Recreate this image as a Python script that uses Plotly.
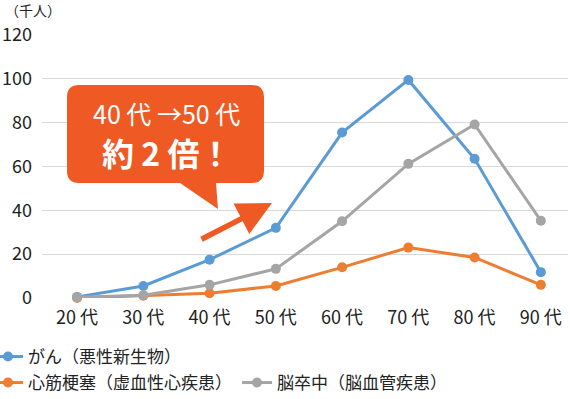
import plotly.graph_objects as go

categories = ["20 代", "30 代", "40 代", "50 代", "60 代", "70 代", "80 代", "90 代"]
cancer = [0.5, 5.5, 17.5, 32, 75.5, 99.5, 63.5, 11.8]
heart = [0.0, 1.0, 2.2, 5.5, 14.0, 23.0, 18.5, 6.0]
stroke = [0.3, 1.3, 6.0, 13.3, 35.0, 61.2, 79.2, 35.3]
series_names = ["がん（悪性新生物）", "心筋梗塞（虚血性心疾患）", "脳卒中（脳血管疾患）"]
y_ticks = [0, 20, 40, 60, 80, 100, 120]

W, H = 570, 399
ML, MR, MT, MB = 42, 2, 35, 101
PW, PH = W - ML - MR, H - MT - MB
FONT = "Noto Sans CJK JP"
ORANGE_CALLOUT = "#EF5A24"


def px(x):
    return (x - ML) / PW


def py(y):
    return (H - MB - y) / PH


fig = go.Figure()
for name, vals, color, lg in [
    (series_names[0], cancer, "#5B9BD5", "legend"),
    (series_names[1], heart, "#ED7D31", "legend2"),
    (series_names[2], stroke, "#A5A5A5", "legend2"),
]:
    fig.add_trace(go.Scatter(
        x=categories, y=vals, name=name, mode="lines+markers",
        line=dict(color=color, width=3),
        marker=dict(color=color, size=10),
        cliponaxis=False, legend=lg,
    ))

# callout bubble (rounded rect + tail)
x0, x1, y0, y1, r = 67, 264, 85, 183, 12
pts = [
    ("M", x0 + r, y0), ("L", x1 - r, y0), ("Q", x1, y0, x1, y0 + r),
    ("L", x1, y1 - r), ("Q", x1, y1, x1 - r, y1),
    ("L", 216, y1), ("L", 218, 209), ("L", 180, y1),
    ("L", x0 + r, y1), ("Q", x0, y1, x0, y1 - r),
    ("L", x0, y0 + r), ("Q", x0, y0, x0 + r, y0),
]
path = ""
for p in pts:
    cmd = p[0]
    coords = p[1:]
    parts = []
    for i in range(0, len(coords), 2):
        parts.append(f"{px(coords[i]):.5f},{py(coords[i+1]):.5f}")
    path += cmd + " ".join(parts) + " "
path += "Z"
fig.add_shape(type="path", path=path, xref="paper", yref="paper",
              fillcolor=ORANGE_CALLOUT, line=dict(width=0), layer="above")

annotations = [
    dict(text="40 代 →50 代", x=px(166), y=py(113), xref="paper", yref="paper",
         showarrow=False, font=dict(family=FONT, size=25, color="white"),
         xanchor="center", yanchor="middle"),
    dict(text="<b>約 2 倍！</b>", x=px(166), y=py(152), xref="paper", yref="paper",
         showarrow=False, font=dict(family=FONT, size=32, color="white"),
         xanchor="center", yanchor="middle"),
    dict(text="", x=px(272), y=py(203), xref="paper", yref="paper",
         showarrow=True, ax=200 - 272, ay=240 - 203, axref="pixel", ayref="pixel",
         arrowcolor=ORANGE_CALLOUT, arrowwidth=5.5, arrowhead=2, arrowsize=1.25),
    dict(text="（千人）", x=px(3), y=py(10), xref="paper", yref="paper",
         xanchor="left", yanchor="middle", showarrow=False,
         font=dict(family=FONT, size=14, color="#222222")),
]

fig.update_layout(
    template="none",
    width=W, height=H,
    margin=dict(l=ML, r=MR, t=MT, b=MB, autoexpand=False),
    paper_bgcolor="white", plot_bgcolor="white",
    font=dict(family=FONT, color="#222222"),
    xaxis=dict(type="category", range=[-0.53, 7.41], showgrid=False,
               showline=False, zeroline=False, ticks="", automargin=False,
               tickfont=dict(family=FONT, size=18, color="#222222"),
               ticklabelstandoff=7),
    yaxis=dict(range=[0, 120], tickvals=y_ticks, showgrid=True,
               gridcolor="#D9D9D9", gridwidth=1, zeroline=False, showline=False,
               ticks="", automargin=False,
               tickfont=dict(family=FONT, size=18, color="#222222"),
               ticklabelstandoff=9),
    legend=dict(orientation="h", xref="paper", yref="paper",
                x=(-12 - ML) / PW, y=(H - MB - 357) / PH,
                xanchor="left", yanchor="middle",
                font=dict(family=FONT, size=17, color="#222222"),
                bgcolor="rgba(0,0,0,0)", itemwidth=30),
    legend2=dict(orientation="h", xref="paper", yref="paper",
                 x=(-12 - ML) / PW, y=(H - MB - 383) / PH,
                 xanchor="left", yanchor="middle",
                 font=dict(family=FONT, size=17, color="#222222"),
                 bgcolor="rgba(0,0,0,0)", itemwidth=30,
                 entrywidth=204, entrywidthmode="pixels"),
    annotations=annotations,
    showlegend=True,
)

fig.write_html("out.html", config={"displayModeBar": False},
               post_script="document.body.style.margin='0';")
